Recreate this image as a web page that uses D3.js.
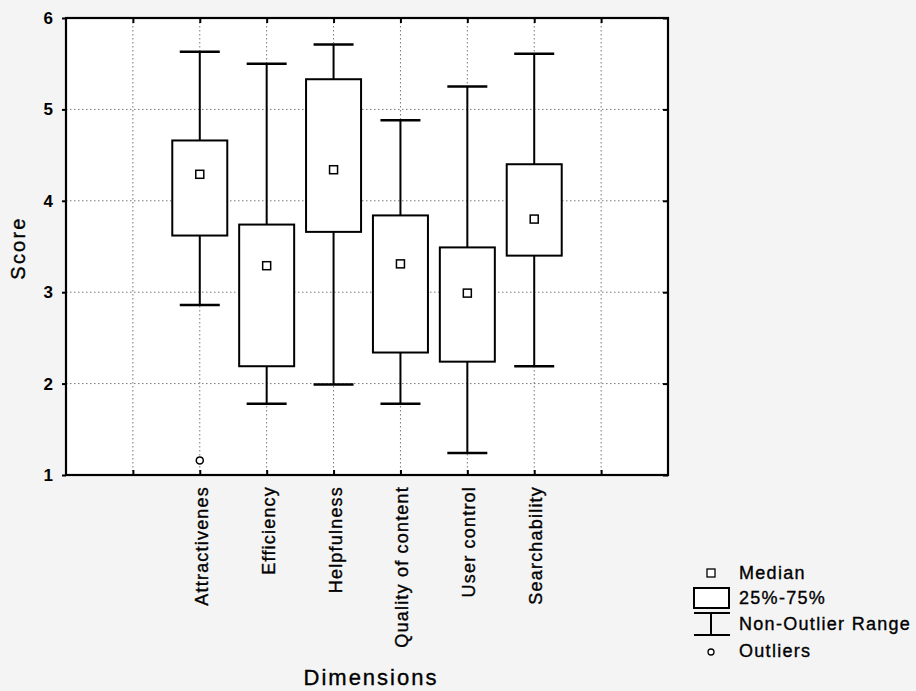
<!DOCTYPE html>
<html lang="en">
<head>
  <meta charset="UTF-8">
  <title>Score by Dimensions</title>
  <script src="https://d3js.org/d3.v7.min.js"></script>
  <style>
    body {
      margin: 0;
      background-color: #f4f4f4;
      font-family: "Liberation Sans", Arial, sans-serif;
    }
    svg text { fill: #000; }
    .heavy { stroke: #000; stroke-width: 0.35px; }
  </style>
</head>
<body>
<svg id="chart" width="916" height="691"></svg>
<script>
  // Data
  const dimensions = ["Attractivenes", "Efficiency", "Helpfulness", "Quality of content", "User control", "Searchability"];
  const whiskerLow  = [2.86, 1.78, 1.99, 1.78, 1.24, 2.19];
  const q1          = [3.62, 2.19, 3.66, 2.34, 2.24, 3.40];
  const medians     = [4.29, 3.29, 4.34, 3.31, 2.99, 3.80];
  const q3          = [4.66, 3.74, 5.33, 3.84, 3.49, 4.40];
  const whiskerHigh = [5.63, 5.50, 5.71, 4.88, 5.25, 5.61];
  const outliers    = [[0, 1.16]]; // [dimension index, value]
  const yTicks = [1, 2, 3, 4, 5, 6];

  const rows = dimensions.map((name, i) => ({
    name, lo: whiskerLow[i], q1: q1[i], med: medians[i], q3: q3[i], hi: whiskerHigh[i]
  }));

  const svg = d3.select("#chart");
  const margin = { left: 66, top: 18, right: 248, bottom: 216 };
  const W = 916 - margin.left - margin.right;
  const H = 691 - margin.top - margin.bottom;

  // blank slots on each side, like the original
  const slots = ["_a", ...dimensions, "_b"];
  const x = d3.scalePoint().domain(slots).range([0, W]).padding(1);
  const y = d3.scaleLinear().domain([1, 6]).range([H, 0]);

  const g = svg.append("g").attr("transform", `translate(${margin.left},${margin.top})`);
  g.append("rect").attr("width", W).attr("height", H).attr("fill", "#fff");

  // grid
  g.append("g").selectAll("line")
    .data(yTicks.slice(1, -1)).join("line")
    .attr("x1", 0).attr("x2", W)
    .attr("y1", d => y(d)).attr("y2", d => y(d))
    .attr("stroke", "#777").attr("stroke-width", 1).attr("stroke-dasharray", "1.5,2.5");
  g.append("g").selectAll("line")
    .data(slots).join("line")
    .attr("x1", d => x(d)).attr("x2", d => x(d))
    .attr("y1", 0).attr("y2", H)
    .attr("stroke", "#777").attr("stroke-width", 1).attr("stroke-dasharray", "1.5,2.5");

  // axes
  const yAxis = g.append("g")
    .call(d3.axisLeft(y).tickValues(yTicks).tickSize(4).tickFormat(d3.format("d")));
  yAxis.select(".domain").remove();
  yAxis.selectAll("line").attr("stroke-width", 2);
  yAxis.selectAll("text")
    .attr("x", -13).attr("font-size", 17).attr("font-weight", "bold")
    .attr("font-family", "'Liberation Sans', Arial, sans-serif");

  const yRight = g.append("g").attr("transform", `translate(${W},0)`)
    .call(d3.axisLeft(y).tickValues(yTicks).tickSize(5).tickFormat(""));
  yRight.select(".domain").remove();
  yRight.selectAll("line").attr("stroke-width", 2);

  const xAxis = g.append("g").attr("transform", `translate(0,${H})`)
    .call(d3.axisTop(x).tickSize(5).tickFormat(""));
  xAxis.select(".domain").remove();
  xAxis.selectAll("line").attr("stroke-width", 2);
  const xTop = g.append("g")
    .call(d3.axisBottom(x).tickSize(5).tickFormat(""));
  xTop.select(".domain").remove();
  xTop.selectAll("line").attr("stroke-width", 2);

  // category labels
  g.append("g").selectAll("text")
    .data(dimensions).join("text")
    .attr("class", "heavy")
    .attr("transform", d => `translate(${x(d) + 8},${H + 11}) rotate(-90)`)
    .attr("text-anchor", "end")
    .attr("font-size", 18)
    .attr("letter-spacing", 1.2)
    .text(d => d);

  // frame
  g.append("rect").attr("width", W).attr("height", H)
    .attr("fill", "none").attr("stroke", "#000").attr("stroke-width", 2.2);

  // boxes
  const boxW = 55, capW = 40;
  const box = g.append("g").selectAll("g").data(rows).join("g")
    .attr("transform", d => `translate(${x(d.name)},0)`);
  box.append("line").attr("y1", d => y(d.hi)).attr("y2", d => y(d.q3))
    .attr("stroke", "#000").attr("stroke-width", 2);
  box.append("line").attr("y1", d => y(d.q1)).attr("y2", d => y(d.lo))
    .attr("stroke", "#000").attr("stroke-width", 2);
  box.append("line").attr("x1", -capW / 2).attr("x2", capW / 2)
    .attr("y1", d => y(d.hi)).attr("y2", d => y(d.hi))
    .attr("stroke", "#000").attr("stroke-width", 2.5);
  box.append("line").attr("x1", -capW / 2).attr("x2", capW / 2)
    .attr("y1", d => y(d.lo)).attr("y2", d => y(d.lo))
    .attr("stroke", "#000").attr("stroke-width", 2.5);
  box.append("rect").attr("x", -boxW / 2).attr("width", boxW)
    .attr("y", d => y(d.q3)).attr("height", d => y(d.q1) - y(d.q3))
    .attr("fill", "#fff").attr("stroke", "#000").attr("stroke-width", 2);
  box.append("rect").attr("x", -4).attr("width", 8)
    .attr("y", d => y(d.med) - 4).attr("height", 8)
    .attr("fill", "#fff").attr("stroke", "#000").attr("stroke-width", 1.5);

  g.append("g").selectAll("circle").data(outliers).join("circle")
    .attr("cx", d => x(dimensions[d[0]])).attr("cy", d => y(d[1])).attr("r", 3.5)
    .attr("fill", "#fff").attr("stroke", "#000").attr("stroke-width", 1.5);

  // axis titles
  svg.append("text").attr("class", "heavy")
    .attr("transform", `translate(25,248) rotate(-90)`)
    .attr("text-anchor", "middle").attr("font-size", 20)
    .attr("letter-spacing", 2.2).text("Score");
  svg.append("text").attr("class", "heavy")
    .attr("x", 371).attr("y", 685)
    .attr("text-anchor", "middle").attr("font-size", 22)
    .attr("letter-spacing", 2).text("Dimensions");

  // legend
  const lg = svg.append("g").attr("transform", "translate(711,0)");
  lg.append("rect").attr("x", -4).attr("y", 569).attr("width", 8).attr("height", 8)
    .attr("fill", "#fff").attr("stroke", "#000").attr("stroke-width", 1.3);
  lg.append("rect").attr("x", -17).attr("y", 588).attr("width", 35).attr("height", 20)
    .attr("fill", "#fff").attr("stroke", "#000").attr("stroke-width", 2);
  lg.append("line").attr("x1", -17).attr("x2", 19).attr("y1", 613).attr("y2", 613)
    .attr("stroke", "#000").attr("stroke-width", 2);
  lg.append("line").attr("x1", 0).attr("x2", 0).attr("y1", 613).attr("y2", 635)
    .attr("stroke", "#000").attr("stroke-width", 2);
  lg.append("line").attr("x1", -17).attr("x2", 19).attr("y1", 635).attr("y2", 635)
    .attr("stroke", "#000").attr("stroke-width", 2);
  lg.append("circle").attr("cx", 0).attr("cy", 652).attr("r", 3)
    .attr("fill", "#fff").attr("stroke", "#000").attr("stroke-width", 1.3);
  const legendItems = [["Median", 579], ["25%-75%", 604], ["Non-Outlier Range", 630], ["Outliers", 657]];
  lg.selectAll("text.leg").data(legendItems).join("text")
    .attr("class", "leg heavy")
    .attr("x", 28).attr("y", d => d[1])
    .attr("font-size", 18)
    .attr("letter-spacing", 1.3)
    .text(d => d[0]);
</script>
</body>
</html>
